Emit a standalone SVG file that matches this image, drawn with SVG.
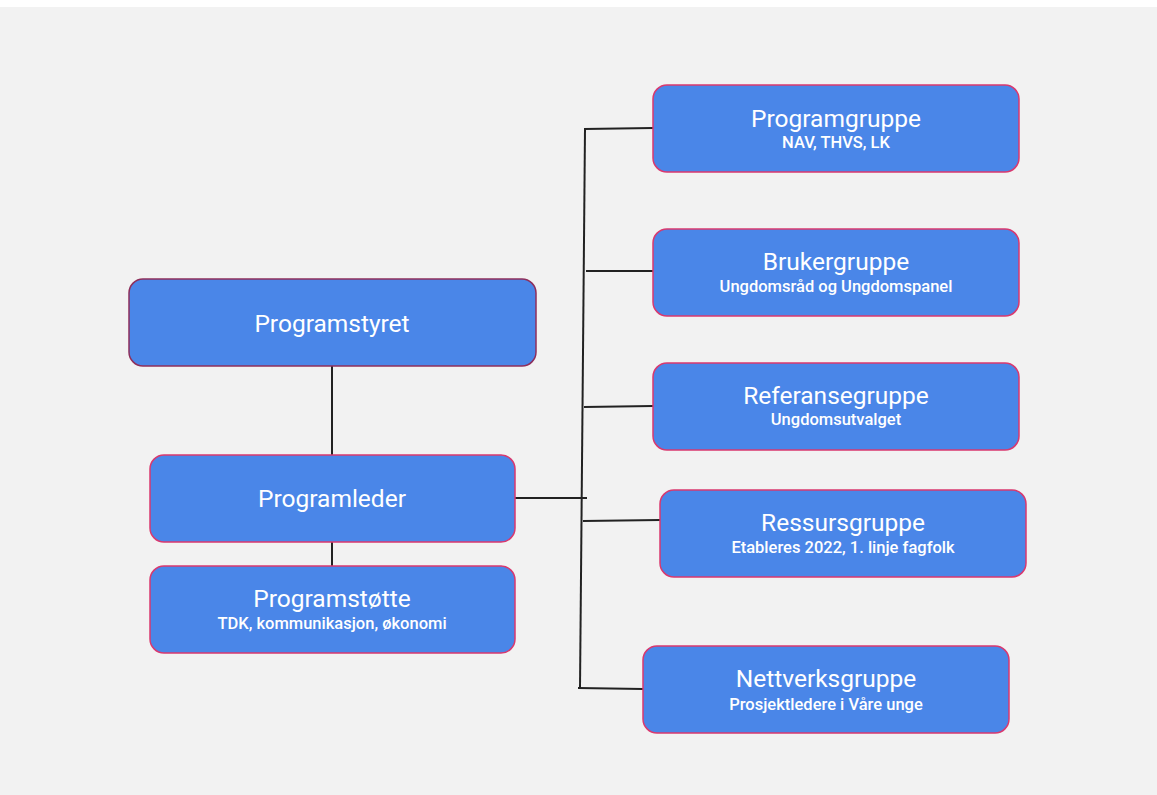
<svg xmlns="http://www.w3.org/2000/svg" width="1157" height="795" viewBox="0 0 1157 795">
<style>
.node{fill:#4a86e8;stroke:#d9396f;stroke-width:1.5}
.dark{stroke:#8e2f5c}
.t{font-family:Roboto,"Liberation Sans",sans-serif;fill:#ffffff;text-anchor:middle;font-size:24.5px}
.s{font-family:Roboto,"Liberation Sans",sans-serif;fill:#ffffff;text-anchor:middle;font-size:16.5px;font-weight:500}
.c{stroke:#222;stroke-width:2;fill:none}
</style>
<rect x="0" y="0" width="1157" height="795" fill="#ffffff"/>
<rect x="0" y="7" width="1157" height="788" fill="#f2f2f2"/>
<g id="connectors">
<line class="c" x1="332" y1="366" x2="332" y2="455"/>
<line class="c" x1="332" y1="542" x2="332" y2="566"/>
<line class="c" x1="585" y1="129" x2="580" y2="688"/>
<line class="c" x1="515" y1="498" x2="587" y2="498"/>
<line class="c" x1="584" y1="129" x2="653" y2="128"/>
<line class="c" x1="586" y1="271" x2="653" y2="271"/>
<line class="c" x1="584" y1="407" x2="653" y2="406"/>
<line class="c" x1="583" y1="521" x2="660" y2="520"/>
<line class="c" x1="578" y1="688" x2="643" y2="689"/>
</g>
<g id="programstyret">
<rect class="node dark" x="129" y="279" width="407" height="87" rx="14"/>
<text class="t" x="332" y="332">Programstyret</text>
</g>
<g id="programleder">
<rect class="node" x="150" y="455" width="365" height="87" rx="14"/>
<text class="t" x="332" y="507">Programleder</text>
</g>
<g id="programstotte">
<rect class="node" x="150" y="566" width="365" height="87" rx="14"/>
<text class="t" x="332" y="607">Programstøtte</text>
<text class="s" x="332" y="629">TDK, kommunikasjon, økonomi</text>
</g>
<g id="programgruppe">
<rect class="node" x="653" y="85" width="366" height="87" rx="14"/>
<text class="t" x="836" y="127">Programgruppe</text>
<text class="s" x="836" y="148">NAV, THVS, LK</text>
</g>
<g id="brukergruppe">
<rect class="node" x="653" y="229" width="366" height="87" rx="14"/>
<text class="t" x="836" y="270">Brukergruppe</text>
<text class="s" x="836" y="292">Ungdomsråd og Ungdomspanel</text>
</g>
<g id="referansegruppe">
<rect class="node" x="653" y="363" width="366" height="87" rx="14"/>
<text class="t" x="836" y="404">Referansegruppe</text>
<text class="s" x="836" y="425">Ungdomsutvalget</text>
</g>
<g id="ressursgruppe">
<rect class="node" x="660" y="490" width="366" height="87" rx="14"/>
<text class="t" x="843" y="531">Ressursgruppe</text>
<text class="s" x="843" y="553">Etableres 2022, 1. linje fagfolk</text>
</g>
<g id="nettverksgruppe">
<rect class="node" x="643" y="646" width="366" height="87" rx="14"/>
<text class="t" x="826" y="687">Nettverksgruppe</text>
<text class="s" x="826" y="710">Prosjektledere i Våre unge</text>
</g>
</svg>
